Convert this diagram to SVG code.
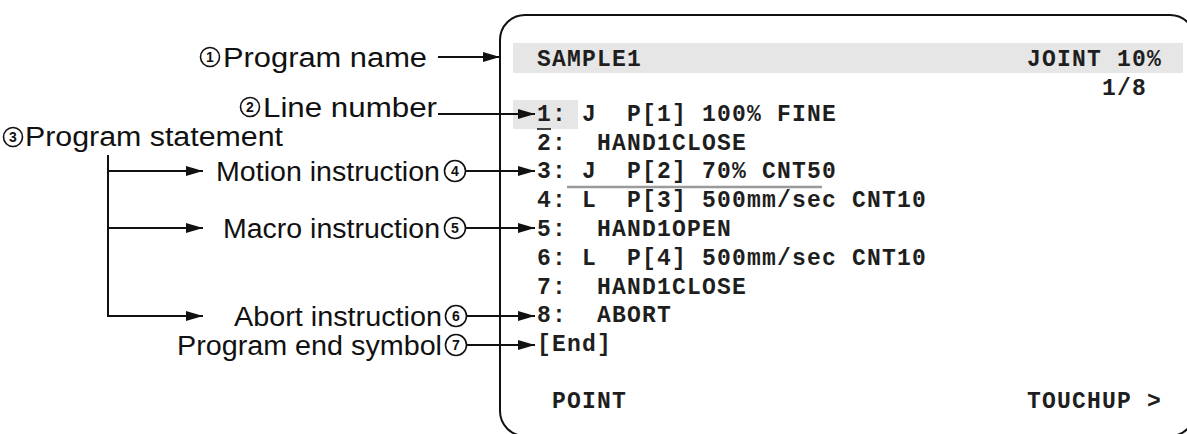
<svg xmlns="http://www.w3.org/2000/svg" width="1187" height="434" viewBox="0 0 1187 434">
<style>
.lbl{font-family:"Liberation Sans",Arial,sans-serif;font-size:27px;fill:#111}
.num{font-family:"Liberation Sans",Arial,sans-serif;font-size:14px;font-weight:bold;fill:#111;text-anchor:middle}
.circ{fill:none;stroke:#111;stroke-width:1.6}
.mono{font-family:"Liberation Mono","Courier New",monospace;font-size:23px;letter-spacing:1.2px;font-weight:bold;fill:#1e1e1e;white-space:pre}
.con{fill:none;stroke:#111;stroke-width:2}
</style>
<defs>
<marker id="ah" markerUnits="userSpaceOnUse" markerWidth="17" markerHeight="10" refX="17" refY="5" orient="auto">
<path d="M0,0 L17,5 L0,10 z" fill="#111"/>
</marker>
</defs>
<rect width="1187" height="434" fill="#ffffff"/>

<g id="screen">
<rect x="500" y="15" width="695" height="421" rx="25" ry="25" fill="#fff" stroke="#111" stroke-width="2"/>
<rect x="513" y="43" width="670" height="30" fill="#e6e6e6"/>
<rect x="513" y="100" width="65" height="29" fill="#e6e6e6"/>
<line x1="537" y1="129" x2="551" y2="129" stroke="#444" stroke-width="2"/>
<line x1="567" y1="187" x2="822" y2="187" stroke="#9a9a9a" stroke-width="2.5"/>
<text class="mono" x="537" y="66">SAMPLE1</text>
<text class="mono" x="1027" y="66">JOINT 10%</text>
<text class="mono" x="1102" y="95">1/8</text>
<text class="mono" x="537" y="121">1: J  P[1] 100% FINE</text>
<text class="mono" x="537" y="150">2:  HAND1CLOSE</text>
<text class="mono" x="537" y="178">3: J  P[2] 70% CNT50</text>
<text class="mono" x="537" y="207">4: L  P[3] 500mm/sec CNT10</text>
<text class="mono" x="537" y="236">5:  HAND1OPEN</text>
<text class="mono" x="537" y="265">6: L  P[4] 500mm/sec CNT10</text>
<text class="mono" x="537" y="294">7:  HAND1CLOSE</text>
<text class="mono" x="537" y="322">8:  ABORT</text>
<text class="mono" x="537" y="351">[End]</text>
<text class="mono" x="537" y="408"> POINT</text>
<text class="mono" x="1027" y="408">TOUCHUP &gt;</text>
</g>

<g id="label-program-name">
<circle class="circ" cx="210" cy="57" r="9.5"/>
<text class="num" x="210" y="62">1</text>
<text class="lbl" x="223" y="67" textLength="204" lengthAdjust="spacingAndGlyphs">Program name</text>
</g>
<g id="label-line-number">
<circle class="circ" cx="250" cy="107" r="9.5"/>
<text class="num" x="250" y="112">2</text>
<text class="lbl" x="263" y="117" textLength="174" lengthAdjust="spacingAndGlyphs">Line number</text>
</g>
<g id="label-program-statement">
<circle class="circ" cx="13" cy="137" r="9.5"/>
<text class="num" x="13" y="142">3</text>
<text class="lbl" x="25" y="146" textLength="258" lengthAdjust="spacingAndGlyphs">Program statement</text>
</g>
<g id="label-motion">
<text class="lbl" x="216" y="181" textLength="224" lengthAdjust="spacingAndGlyphs">Motion instruction</text>
<circle class="circ" cx="455" cy="171" r="10.5"/>
<text class="num" x="455" y="176">4</text>
</g>
<g id="label-macro">
<text class="lbl" x="223" y="238" textLength="217" lengthAdjust="spacingAndGlyphs">Macro instruction</text>
<circle class="circ" cx="455" cy="228" r="10.5"/>
<text class="num" x="455" y="233">5</text>
</g>
<g id="label-abort">
<text class="lbl" x="234" y="326" textLength="208" lengthAdjust="spacingAndGlyphs">Abort instruction</text>
<circle class="circ" cx="456" cy="316" r="10.5"/>
<text class="num" x="456" y="321">6</text>
</g>
<g id="label-end">
<text class="lbl" x="177" y="355" textLength="265" lengthAdjust="spacingAndGlyphs">Program end symbol</text>
<circle class="circ" cx="456" cy="345" r="10.5"/>
<text class="num" x="456" y="350">7</text>
</g>

<g id="connectors">
<line class="con" x1="438" y1="57" x2="500" y2="57" marker-end="url(#ah)"/>
<line class="con" x1="438" y1="114" x2="535" y2="114" marker-end="url(#ah)"/>
<line class="con" x1="466" y1="171" x2="535" y2="171" marker-end="url(#ah)"/>
<line class="con" x1="466" y1="228" x2="535" y2="228" marker-end="url(#ah)"/>
<line class="con" x1="467" y1="316" x2="535" y2="316" marker-end="url(#ah)"/>
<line class="con" x1="467" y1="345" x2="535" y2="345" marker-end="url(#ah)"/>
<path class="con" d="M108,155 V316 H203" marker-end="url(#ah)"/>
<line class="con" x1="108" y1="171" x2="203" y2="171" marker-end="url(#ah)"/>
<line class="con" x1="108" y1="228" x2="203" y2="228" marker-end="url(#ah)"/>
</g>
</svg>
